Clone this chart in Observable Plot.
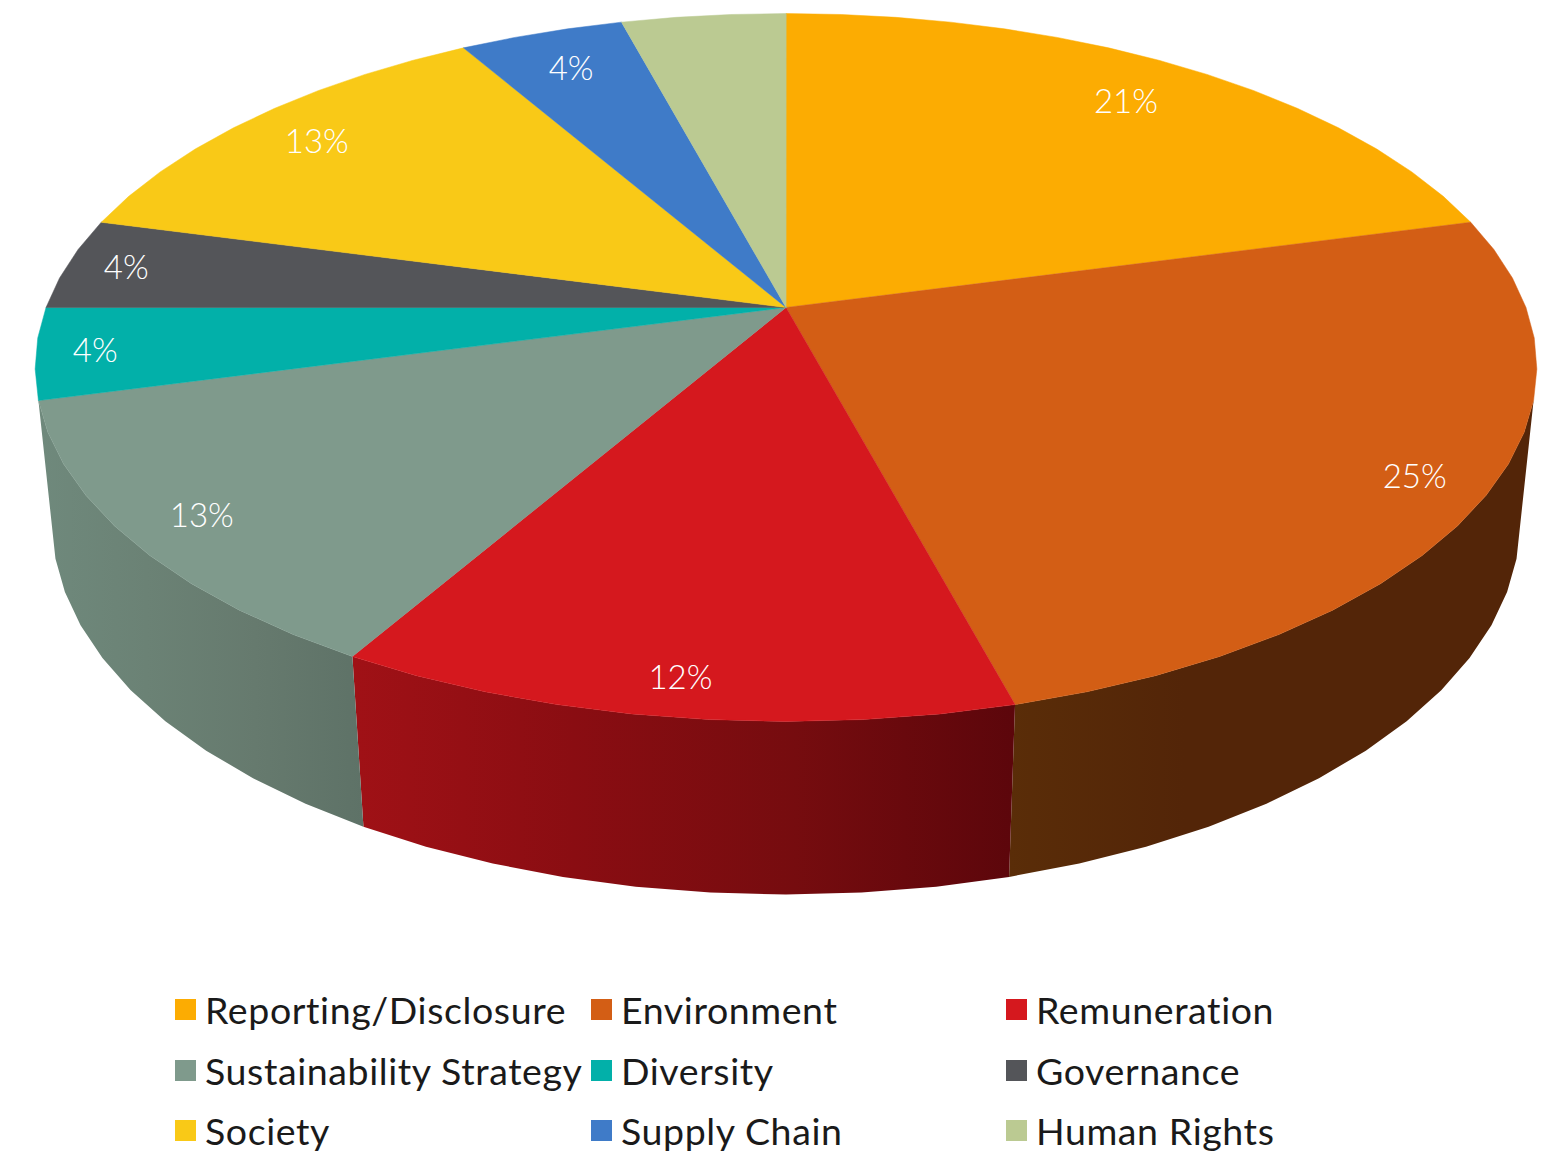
<!DOCTYPE html>
<html>
<head>
<meta charset="utf-8">
<script src="https://cdn.jsdelivr.net/npm/d3@7"></script>
<script src="https://cdn.jsdelivr.net/npm/@observablehq/plot@0.6"></script>
<style>
  html, body { margin: 0; padding: 0; background: #fff; overflow: hidden; }
  body { width: 1546px; height: 1152px; position: relative; font-family: Lato, "Noto Sans", sans-serif; }
  #chart svg { display: block; }
  #legend { position: absolute; left: 175px; top: 979px; display: grid;
            grid-template-columns: 416px 415px auto; grid-auto-rows: 60.7px; }
  .item { display: flex; align-items: center; font-size: 37.5px; font-weight: 400; letter-spacing: 0.6px; color: #1a1a1a; white-space: nowrap; }
  .swatch { width: 21px; height: 21px; margin-right: 9px; flex: none; }
</style>
</head>
<body>
<div id="chart"></div>
<div id="legend"></div>
<script>
// Topics and their share of the total, in percent, clockwise from twelve o'clock.
const topics = ["Reporting/Disclosure", "Environment", "Remuneration", "Sustainability Strategy", "Diversity", "Governance", "Society", "Supply Chain", "Human Rights"];
const shares = [20.833, 25, 12.499, 12.501, 4.167, 4.167, 12.501, 4.167, 4.165];
const colors = ["#fcac02", "#d35e15", "#d5181e", "#7f9a8c", "#02b0a9", "#545559", "#f9c917", "#3f7bc8", "#bbca92"];
// Distance of each label along its slice's mid angle, as a fraction of the radius (0 = no label).
const labelRadii = [0.8425, 0.907, 0.916, 0.901, 0.921, 0.916, 0.869, 0.857, 0];
// Shading of the rim from its left end to its right end, for the slices that show one.
const wallStops = {
  Environment: ["#5a2d08", "#532508", "#532508", "#532508"],
  Remuneration: ["#a01116", "#8a0d12", "#760c0f", "#5c060b"],
  "Sustainability Strategy": ["#6f897c", "#6b8275", "#667a6e", "#5e7267"]
};

// Perspective view of a flat cylinder: offsets are in pixels around the hub.
const view = { c: 740, a: 343.8, b: 0.1695, h: 156.8, g: 0.0223 };
const project = (deg, depth, radius = 1) => {
  const t = (deg * Math.PI) / 180;
  const X = radius * Math.sin(t), Z = radius * Math.cos(t);
  const w = 1 + view.b * Z + view.g * depth;
  return { x: (view.c * X) / w, y: (-view.a * Z + view.h * depth) / w };
};

// The rim is a polygon with a vertex every five degrees.
const facet = 5;
const rimAngles = (from, to) => {
  const list = [from];
  for (let d = Math.ceil(from / facet + 1e-2) * facet; d < to - 1e-2; d += facet) list.push(d);
  list.push(to);
  return list;
};

let running = 0;
const slices = topics.map((topic, i) => {
  const start = (running / 100) * 360;
  running += shares[i];
  return { topic, share: shares[i], color: colors[i], start, end: (running / 100) * 360, labelRadius: labelRadii[i] };
});

// Top face: hub plus rim vertices for each slice.
const topFace = slices.flatMap((s) => [
  { id: s.topic, color: s.color, x: 0, y: 0 },
  ...rimAngles(s.start, s.end).map((d) => ({ id: s.topic, color: s.color, ...project(d, 0) }))
]);

// Front wall between the silhouettes at 105° and 255°, one closed outline per slice.
const wallFrom = 105, wallTo = 255;
const gradientId = (topic) => `wall-${topic.replace(/\W+/g, "-")}`;
const wall = slices.flatMap((s) => {
  const from = Math.max(s.start, wallFrom), to = Math.min(s.end, wallTo);
  if (to <= from) return [];
  const edge = rimAngles(from, to);
  const color = `url(#${gradientId(s.topic)})`;
  return [
    ...edge.map((d) => ({ id: s.topic, color, ...project(d, 0) })),
    ...edge.slice().reverse().map((d) => ({ id: s.topic, color, ...project(d, 1) }))
  ];
});

const labels = slices.filter((s) => s.labelRadius > 0).map((s) => ({
  text: `${Math.round(s.share)}%`,
  ...project((s.start + s.end) / 2, 0, s.labelRadius)
}));

// Horizontal gradients for the wall, referenced by the fills above.
const wallGradients = () => {
  const ns = "http://www.w3.org/2000/svg";
  const defs = document.createElementNS(ns, "defs");
  for (const [topic, stops] of Object.entries(wallStops)) {
    const g = document.createElementNS(ns, "linearGradient");
    g.setAttribute("id", gradientId(topic));
    stops.forEach((c, i) => {
      const stop = document.createElementNS(ns, "stop");
      stop.setAttribute("offset", i / (stops.length - 1));
      stop.setAttribute("stop-color", c);
      g.append(stop);
    });
    defs.append(g);
  }
  return defs;
};

const faceOptions = { x: "x", y: "y", z: "id", fill: "color", curve: "linear-closed" };

document.getElementById("chart").append(Plot.plot({
  width: 1546,
  height: 960,
  margin: 0,
  axis: null,
  x: { domain: [-785.5, 760.5], range: [0, 1546] },
  y: { domain: [-307, 653], range: [0, 960] },
  color: { type: "identity" },
  marks: [
    wallGradients,
    Plot.line(wall, { ...faceOptions, stroke: "none" }),
    Plot.line(topFace, { ...faceOptions, stroke: "color", strokeWidth: 0.5 }),
    Plot.text(labels, { x: "x", y: "y", dy: 1.5, dx: -1, text: "text", fill: "white", fontSize: 33, fontWeight: 300, fontFamily: "Lato, sans-serif" })
  ]
}));

// Three-column key below the pie.
const legend = d3.select("#legend");
topics.forEach((topic, i) => {
  const item = legend.append("div").attr("class", "item");
  item.append("span").attr("class", "swatch").style("background", colors[i]);
  item.append("span").text(topic);
});
</script>
</body>
</html>
